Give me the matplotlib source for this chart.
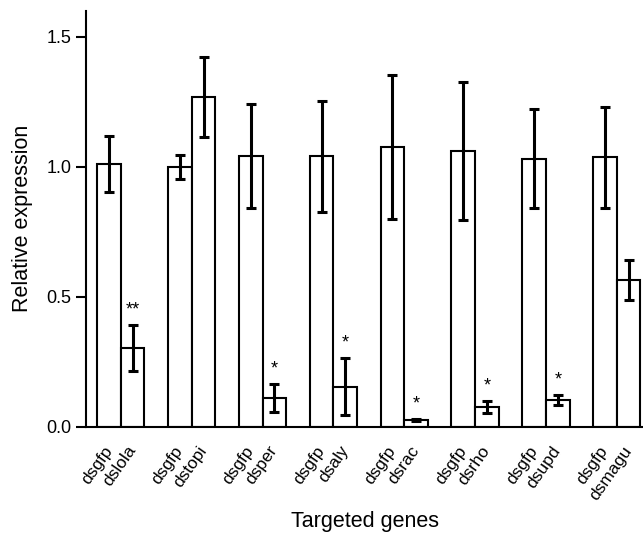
import matplotlib
matplotlib.use('Agg')
from matplotlib import pyplot as plt
import numpy as np

plt.rcParams['font.family'] = ['Liberation Sans', 'DejaVu Sans']

genes = ['dslola', 'dstopi', 'dsper', 'dsaly', 'dsrac', 'dsrho', 'dsupd', 'dsmagu']
ctrl = [1.01, 1.00, 1.04, 1.04, 1.077, 1.06, 1.031, 1.036]
ctrl_err = [0.108, 0.047, 0.20, 0.215, 0.278, 0.266, 0.19, 0.193]
treat = [0.304, 1.268, 0.110, 0.154, 0.026, 0.076, 0.103, 0.564]
treat_err = [0.088, 0.155, 0.053, 0.11, 0.005, 0.024, 0.02, 0.077]
stars = ['**', '', '*', '*', '*', '*', '*', '']

fig = plt.figure(figsize=(6.43, 5.35), dpi=100)
ax = fig.add_axes([0.134, 0.2025, 0.866, 0.777])

x = np.arange(len(genes))
w = 1/3
ekw = dict(elinewidth=2.2, capthick=2.2, capsize=3.6, ecolor='black')
ax.bar(x - w/2, ctrl, w, yerr=ctrl_err, color='white', edgecolor='black',
       linewidth=1.5, error_kw=ekw)
ax.bar(x + w/2, treat, w, yerr=treat_err, color='white', edgecolor='black',
       linewidth=1.5, error_kw=ekw)

for i, s in enumerate(stars):
    if s:
        ax.text(x[i] + w/2, treat[i] + treat_err[i] + 0.025, s, ha='center',
                va='bottom', fontsize=13)

ax.set_xlim(-0.49, 7.37)
ax.set_ylim(0, 1.6)
ax.set_yticks([0.0, 0.5, 1.0, 1.5])
ax.set_yticklabels(['0.0', '0.5', '1.0', '1.5'])

pos = np.concatenate([x - w/2, x + w/2])
labs = ['dsgfp'] * len(genes) + genes
ax.set_xticks(pos)
ax.set_xticklabels(labs, rotation=55, ha='right', va='center',
                   rotation_mode='anchor', fontsize=12.5)
ax.tick_params(axis='x', length=0, pad=15)
ax.tick_params(axis='y', length=7, width=1.5, labelsize=13, direction='out')

ax.spines['top'].set_visible(False)
ax.spines['right'].set_visible(False)
ax.spines['left'].set_linewidth(1.5)
ax.spines['bottom'].set_linewidth(1.5)

ax.set_ylabel('Relative expression', fontsize=15.5, va='center')
ax.yaxis.set_label_coords(-0.115, 0.5)
ax.set_xlabel('Targeted genes', fontsize=15.5, va='center')
ax.xaxis.set_label_coords(0.5, -0.227)

fig.savefig('out.png', dpi=100)
